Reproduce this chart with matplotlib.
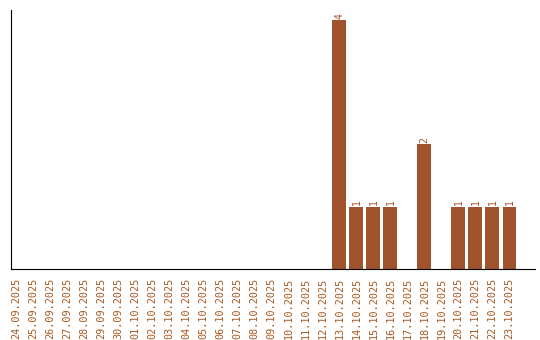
import matplotlib
matplotlib.use('Agg')
import matplotlib.pyplot as plt

dates = ['24.09.2025', '25.09.2025', '26.09.2025', '27.09.2025', '28.09.2025',
         '29.09.2025', '30.09.2025', '01.10.2025', '02.10.2025', '03.10.2025',
         '04.10.2025', '05.10.2025', '06.10.2025', '07.10.2025', '08.10.2025',
         '09.10.2025', '10.10.2025', '11.10.2025', '12.10.2025', '13.10.2025',
         '14.10.2025', '15.10.2025', '16.10.2025', '17.10.2025', '18.10.2025',
         '19.10.2025', '20.10.2025', '21.10.2025', '22.10.2025', '23.10.2025']
counts = [0, 0, 0, 0, 0, 0, 0, 0, 0, 0, 0, 0, 0, 0, 0, 0, 0, 0, 0, 4,
          1, 1, 1, 0, 2, 0, 1, 1, 1, 1]

color = '#a0522d'
fig = plt.figure(figsize=(5.4, 3.4), dpi=100)
ax = fig.add_axes([11 / 540, 71 / 340, 524 / 540, 259 / 340])

x = list(range(len(dates)))
ax.bar(x, counts, width=0.82, color=color)
for i, c in enumerate(counts):
    if c > 0:
        ax.text(i, c + 0.02, str(c), rotation=90, ha='center', va='bottom',
                color=color, fontsize=7, family='DejaVu Sans Mono')

ax.set_xlim(-0.3, 30.5)
ax.set_ylim(0, 4.16)
ax.set_xticks(x)
ax.set_xticklabels(dates, rotation=90, color='#a8581f', fontsize=7.3,
                   family='DejaVu Sans Mono')
ax.tick_params(axis='x', length=0, pad=6)
ax.set_yticks([])
ax.spines['top'].set_visible(False)
ax.spines['right'].set_visible(False)

fig.savefig('out.png', dpi=100)
